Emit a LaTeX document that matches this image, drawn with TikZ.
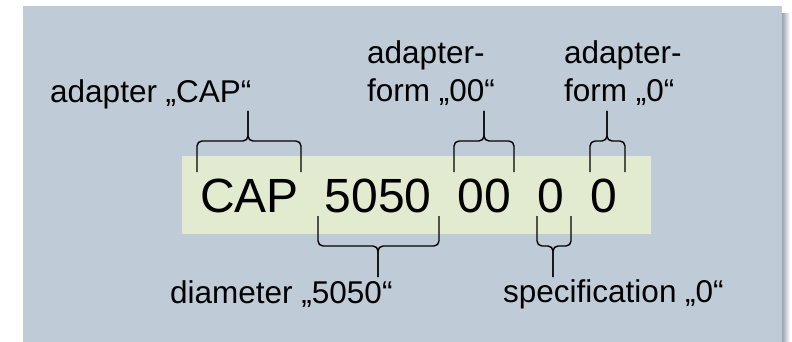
\documentclass[tikz,border=0pt]{standalone}
\usepackage{fontspec}
\setmainfont{Liberation Sans}
\usepackage{tikz}
\usetikzlibrary{positioning}
\definecolor{panelblue}{HTML}{BFCCD8}
\definecolor{codegreen}{HTML}{E2EACF}
\definecolor{shadowgray}{HTML}{9AA4AD}

\begin{document}
\begin{tikzpicture}[
    x=1pt, y=-1pt,
    code/.style={
        font=\fontsize{48}{56}\selectfont,
        inner sep=0pt,
        anchor=base west
    },
    label/.style={
        font=\fontsize{31.5}{37.5}\selectfont,
        inner sep=0pt,
        anchor=base west,
        align=left
    },
    bracket/.style={
        draw,
        line width=1.4pt,
        rounded corners=5pt
    }
]
\useasboundingbox (0,0) rectangle (792,342);

% panel with soft shadow
\shade[left color=shadowgray, right color=white] (782,14) rectangle (790,342);
\fill[panelblue] (23,6) rectangle (782,342);
\fill[codegreen] (182,156) rectangle (651,234);

% type code
\node[code] (cap) at (200,212) {CAP};
\node[code] (diam) at (324.5,212) {5050};
\node[code] (form) at (457.5,212) {00};
\node[code] (spec) at (537.5,212) {0};
\node[code] (last) at (590.5,212) {0};

% labels
\node[label] (lcap) at (50,103) {adapter „CAP“};
\node[label] (lform) at (367,101.5) {adapter-\\form „00“};
\node[label] (llast) at (564,101.5) {adapter-\\form „0“};
\node[label] (ldiam) at (170,303) {diameter „5050“};
\node[label] (lspec) at (503,302) {specification „0“};

% braces above
\foreach \l/\c/\r in {197/248/301, 454/484/514, 590/607/625} {
    \draw[bracket] (\l,172) |- (\c,141) -- (\c,111);
    \draw[bracket] (\r,172) |- (\c,141) -- (\c,111);
}

% braces below
\foreach \l/\c/\r in {318/378/439, 537/553/571} {
    \draw[bracket] (\l,216) |- (\c,246) -- (\c,277);
    \draw[bracket] (\r,216) |- (\c,246) -- (\c,277);
}

\end{tikzpicture}
\end{document}
